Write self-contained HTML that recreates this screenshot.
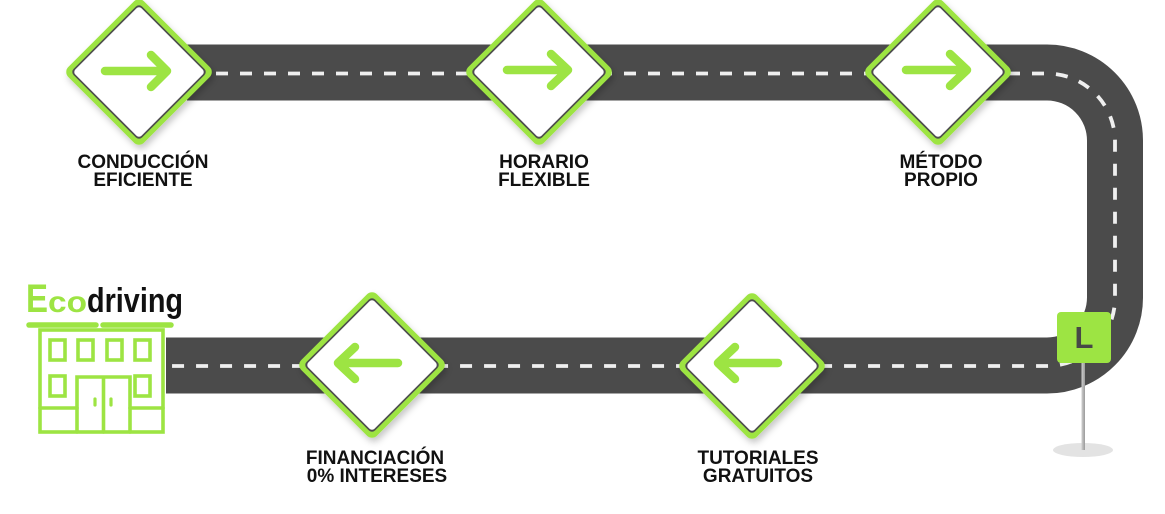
<!DOCTYPE html>
<html><head><meta charset="utf-8"><style>
html,body{margin:0;padding:0;background:#fff;}
svg{display:block;}
text{font-family:"Liberation Sans",sans-serif;}
</style></head><body>
<svg width="1165" height="514" viewBox="0 0 1165 514" xmlns="http://www.w3.org/2000/svg">
<defs>
<filter id="sh" x="-30%" y="-30%" width="160%" height="160%">
<feDropShadow dx="2" dy="4" stdDeviation="3.5" flood-color="#000" flood-opacity="0.22"/>
</filter>
<linearGradient id="pole" x1="0" x2="1" y1="0" y2="0">
<stop offset="0" stop-color="#cfcfcf"/><stop offset="1" stop-color="#9a9a9a"/>
</linearGradient>
<g id="sign">
<rect x="-53.5" y="-53.5" width="107" height="107" rx="7" fill="#9de443"/>
<rect x="-48.5" y="-48.5" width="97" height="97" rx="4.5" fill="#4d4d4d"/>
<rect x="-46.8" y="-46.8" width="93.6" height="93.6" rx="3.5" fill="#fff"/>
</g>
</defs>

<!-- road -->
<path d="M187 72.5 H1047 A68 68 0 0 1 1115 140.5 V297 A68 68 0 0 1 1047 365.5 H166" fill="none" stroke="#4b4b4b" stroke-width="56"/>
<path d="M187 73.5 H1047 A68 68 0 0 1 1115 140.5 V297 A68 68 0 0 1 1047 366 H166" fill="none" stroke="#efefef" stroke-width="3.8" stroke-dasharray="12 12" stroke-dashoffset="-5"/>

<!-- signs top -->
<g filter="url(#sh)"><g transform="translate(139,72) rotate(45)"><use href="#sign"/></g></g>
<g filter="url(#sh)"><g transform="translate(539,72) rotate(45)"><use href="#sign"/></g></g>
<g filter="url(#sh)"><g transform="translate(938,72) rotate(45)"><use href="#sign"/></g></g>
<!-- signs bottom -->
<g filter="url(#sh)"><g transform="translate(372,365) rotate(45)"><use href="#sign"/></g></g>
<g filter="url(#sh)"><g transform="translate(752,366) rotate(45)"><use href="#sign"/></g></g>

<!-- arrows -->
<g fill="none" stroke="#9de443" stroke-width="8.5" stroke-linecap="round" stroke-linejoin="round">
<path d="M105 71 H167 M151 55 L167 71 L151 87"/>
<path d="M507 70 H568 M551 54 L568 70 L551 86"/>
<path d="M906 70 H967 M950 54 L967 70 L950 86"/>
<path d="M338 363 H398 M355 347 L338 363 L355 379"/>
<path d="M718 363 H778 M735 347 L718 363 L735 379"/>
</g>

<!-- labels -->
<g font-size="19" font-weight="bold" fill="#111" text-anchor="middle">
<text x="143" y="168">CONDUCCIÓN</text>
<text x="143" y="186">EFICIENTE</text>
<text x="544" y="168">HORARIO</text>
<text x="544" y="186">FLEXIBLE</text>
<text x="941" y="168">MÉTODO</text>
<text x="941" y="186">PROPIO</text>
<text x="375" y="464">FINANCIACIÓN</text>
<text x="377" y="482">0% INTERESES</text>
<text x="758" y="464">TUTORIALES</text>
<text x="758" y="482">GRATUITOS</text>
</g>

<!-- L sign -->
<ellipse cx="1083" cy="450" rx="30" ry="7" fill="#e3e3e3"/>
<rect x="1081.5" y="360" width="3.5" height="90" fill="url(#pole)"/>
<rect x="1057" y="312" width="54" height="51" rx="4" fill="#9de443"/>
<text x="1084" y="348" font-size="31" font-weight="bold" fill="#474747" text-anchor="middle">L</text>

<!-- building logo -->
<text x="26" y="312" font-size="40" font-weight="bold" fill="#9de443" textLength="22" lengthAdjust="spacingAndGlyphs">E</text>
<text x="48" y="312" font-size="30" font-weight="bold" fill="#9de443" textLength="39" lengthAdjust="spacingAndGlyphs">co</text>
<text x="87" y="312" font-size="34" font-weight="bold" fill="#111" textLength="96" lengthAdjust="spacingAndGlyphs">driving</text>

<g fill="none" stroke="#9de443" stroke-width="3.6" stroke-linecap="round">
<path d="M29 325 H96 M103 325 H171" stroke-width="5.5"/>
<rect x="40" y="330" width="123" height="102" fill="#fff"/>
<rect x="50" y="340" width="15" height="20"/>
<rect x="78" y="340" width="15" height="20"/>
<rect x="107" y="340" width="15" height="20"/>
<rect x="135" y="340" width="15" height="20"/>
<rect x="50" y="376" width="15" height="20"/>
<rect x="135" y="376" width="15" height="20"/>
<path d="M77 432 V377 H130 V432 M103.5 377 V432"/>
<path d="M40 408 H77 M130 408 H163"/>
<path d="M95 399 V405 M111 399 V405" stroke-width="3.2"/>
</g>
</svg>
</body></html>
